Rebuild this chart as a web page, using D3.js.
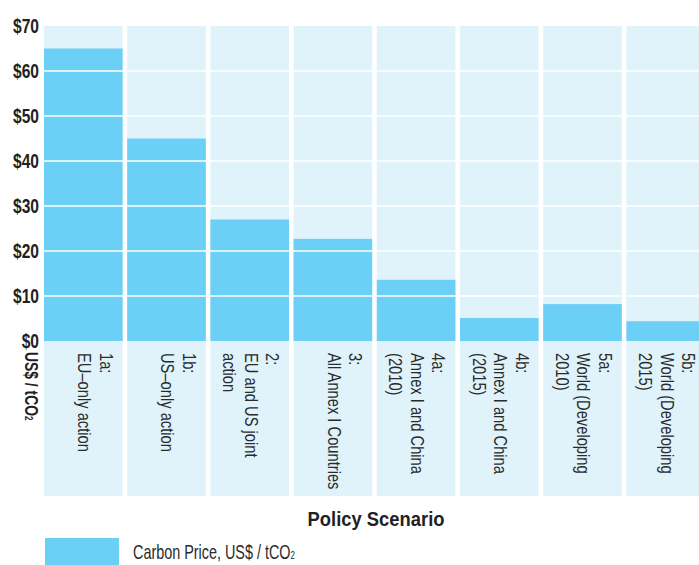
<!DOCTYPE html>
<html lang='en'>
<head>
    <title>Carbon Price by Policy Scenario</title>
    <meta charset='UTF-8'>
    <script src='https://d3js.org/d3.v7.min.js'></script>
    <style>
      body { margin: 0; background: #fff; }
      text { font-family: 'Liberation Sans', Arial, sans-serif; fill: #231f20; }
    </style>
</head>
<body>
<svg id='chart' width='699' height='565'></svg>

<script>
// data
const scenarioIds = ['1a:', '1b:', '2:', '3:', '4a:', '4b:', '5a:', '5b:']
const scenarioNames = [
  ['EU\u2013only action'],
  ['US\u2013only action'],
  ['EU and US joint', 'action'],
  ['All Annex I Countries'],
  ['Annex I and China', '(2010)'],
  ['Annex I and China', '(2015)'],
  ['World (Developing', '2010)'],
  ['World (Developing', '2015)']
]
const carbonPrice = [65, 45, 27, 22.7, 13.6, 5.1, 8.2, 4.4]
const yTicks = [0, 10, 20, 30, 40, 50, 60, 70]

const barColor = '#6ccff6'
const bgColor = '#e0f3fb'

let svg = d3.select('#chart')

let x = d3.scaleBand()
  .domain(scenarioIds)
  .range([44, 705])
  .paddingInner(0.055)
  .paddingOuter(0)

let y = d3.scaleLinear().domain([0, 70]).range([341, 26])

const plotBottom = 496

// column backgrounds
svg.append('g').selectAll('rect')
  .data(scenarioIds).enter()
  .append('rect')
    .attr('x', d => x(d))
    .attr('y', y(70))
    .attr('width', x.bandwidth())
    .attr('height', plotBottom - y(70))
    .attr('fill', bgColor)

// bars
svg.append('g').selectAll('rect')
  .data(carbonPrice).enter()
  .append('rect')
    .attr('x', (d, i) => x(scenarioIds[i]))
    .attr('y', d => y(d))
    .attr('width', x.bandwidth())
    .attr('height', d => y(0) - y(d))
    .attr('fill', barColor)

// white gridlines over everything
svg.append('g').selectAll('line')
  .data(yTicks.filter(d => d > 0 && d < 70)).enter()
  .append('line')
    .attr('x1', 44).attr('x2', 699)
    .attr('y1', d => y(d)).attr('y2', d => y(d))
    .attr('stroke', '#fff')
    .attr('stroke-width', 1.5)

// y tick labels
svg.append('g').selectAll('text')
  .data(yTicks).enter()
  .append('text')
    .attr('transform', d => `translate(39,${y(d) + 7}) scale(0.78,1)`)
    .attr('text-anchor', 'end')
    .style('font-size', '20px')
    .style('font-weight', 'bold')
    .text(d => '$' + d)

// y axis title
let yTitle = svg.append('text')
  .attr('transform', 'translate(25,352) rotate(90) scale(0.73,1)')
  .style('font-size', '19px')
  .style('font-weight', 'bold')
yTitle.append('tspan').text('US$ / tCO')
yTitle.append('tspan').style('font-size', '11px').text('2')

// rotated scenario labels
let labelG = svg.append('g').selectAll('text')
  .data(scenarioIds).enter()
  .append('text')
    .attr('transform', d => `translate(${x(d) + x.bandwidth() - 23},353) rotate(90) scale(0.84,1)`)
    .style('font-size', '17.5px')
    .style('fill', '#2b2b2b')

labelG.each(function(d, i) {
  let lines = [d].concat(scenarioNames[i])
  d3.select(this).selectAll('tspan')
    .data(lines).enter()
    .append('tspan')
      .attr('x', 0)
      .attr('y', (l, j) => j * 21.5)
      .text(l => l)
})

// x axis title
svg.append('text')
  .attr('transform', 'translate(376,526) scale(0.92,1)')
  .attr('text-anchor', 'middle')
  .style('font-size', '20px')
  .style('font-weight', 'bold')
  .text('Policy Scenario')

// legend
svg.append('rect')
  .attr('x', 45).attr('y', 538)
  .attr('width', 74).attr('height', 30)
  .attr('fill', barColor)

let legText = svg.append('text')
  .attr('transform', 'translate(133,559) scale(0.72,1)')
  .style('font-size', '20px')
  .style('fill', '#2b2b2b')
legText.append('tspan').text('Carbon Price, US$ / tCO')
legText.append('tspan').style('font-size', '11px').text('2')
</script>
</body>
</html>
